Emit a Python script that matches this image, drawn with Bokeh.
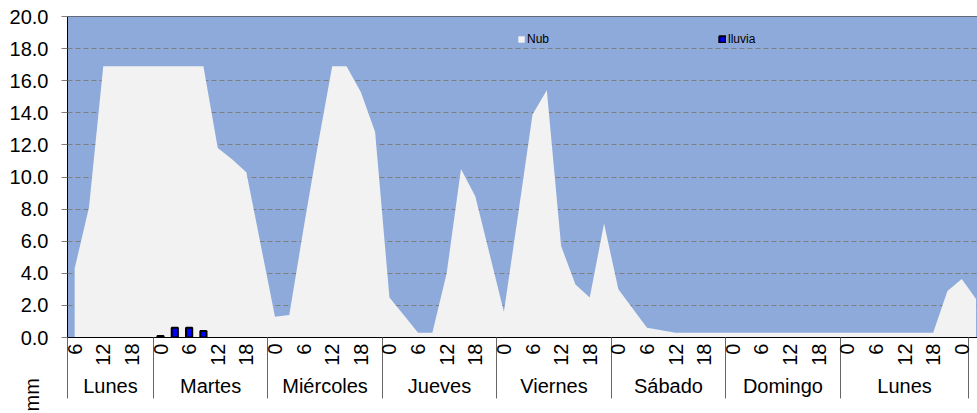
import math
from bokeh.plotting import figure
from bokeh.models import (FixedTicker, LinearAxis, NumeralTickFormatter, Range1d,
                          Span, Legend, LegendItem, ColumnDataSource, Title)
from bokeh.embed import file_html
from bokeh.resources import INLINE

FONT = "Liberation Sans"

# ---- data (hours counted from the first Lunes 00:00, 3-hour steps) ----
nub_hours = list(range(6, 196, 3))
nub_values = [
    4.3, 8.1, 16.9, 16.9, 16.9, 16.9,                      # Lunes 6..21
    16.9, 16.9, 16.9, 16.9, 11.8, 11.1, 10.3, 5.8,         # Martes
    1.3, 1.4, 6.8, 12.0, 16.9, 16.9, 15.3, 12.8,           # Miércoles
    2.5, 1.4, 0.3, 0.3, 4.0, 10.5, 8.8, 5.2,               # Jueves
    1.6, 7.7, 13.9, 15.4, 5.7, 3.3, 2.5, 7.1,              # Viernes
    3.0, 1.8, 0.6, 0.45, 0.3, 0.3, 0.3, 0.3,               # Sábado
    0.3, 0.3, 0.3, 0.3, 0.3, 0.3, 0.3, 0.3,                # Domingo
    0.3, 0.3, 0.3, 0.3, 0.3, 0.3, 0.3, 2.9, 3.65, 2.4,     # Lunes 0..24, +3
]
rain_hours = [24, 27, 30, 33]
rain_values = [0.1, 0.6, 0.6, 0.4]

hour_ticks = list(range(6, 193, 6))
hour_cycle = ["0", "6", "12", "18"]
hour_labels = [hour_cycle[(h % 24) // 6] for h in hour_ticks]

day_names = ["Lunes", "Martes", "Miércoles", "Jueves", "Viernes", "Sábado", "Domingo", "Lunes"]
day_bounds = [4.5, 22.5, 46.5, 70.5, 94.5, 118.5, 142.5, 166.5, 193.5]
day_centers = [(a + b) / 2 for a, b in zip(day_bounds[:-1], day_bounds[1:])]

y_ticks = [0, 2, 4, 6, 8, 10, 12, 14, 16, 18, 20]
unit_text = "mm"

# ---- main figure ----
p = figure(width=977, height=413, x_range=Range1d(4.5, 195.3), y_range=Range1d(0, 20),
           output_backend="svg", toolbar_location=None,
           min_border_left=67, min_border_right=0, min_border_top=16, min_border_bottom=76,
           background_fill_color="#8EAADB", border_fill_color="white",
           outline_line_color=None)

src = ColumnDataSource(dict(t=nub_hours, v=nub_values))
area = p.varea(x="t", y1=0, y2="v", source=src, fill_color="#F2F2F2")
rsrc = ColumnDataSource(dict(t=rain_hours, v=rain_values))
bars = p.vbar(x="t", top="v", width=1.3, source=rsrc, fill_color="#0000FF",
              line_color="black", line_width=2)

# grid
p.xgrid.visible = False
p.ygrid.ticker = FixedTicker(ticks=y_ticks[1:-1])
p.ygrid.grid_line_color = "#7F7F7F"
p.ygrid.grid_line_dash = "5 3"
p.add_layout(Span(location=20, dimension="width", line_color="black", line_width=1))

# y axis
ya = p.yaxis[0]
ya.ticker = FixedTicker(ticks=y_ticks)
ya.formatter = NumeralTickFormatter(format="0.0")
ya.major_label_text_font = FONT
ya.major_label_text_font_size = "20px"
ya.major_label_text_color = "black"
ya.major_tick_out = 6
ya.major_tick_in = 0
ya.minor_tick_out = 0
ya.minor_tick_in = 0
ya.major_tick_line_color = "#808080"
ya.axis_line_color = "black"
ya.major_label_standoff = 13

# unit text, bottom-left (left-side title pushed below the frame)
p.add_layout(Title(text=unit_text, align="left", vertical_align="bottom",
                   offset=-74, standoff=-72, text_font=FONT, text_font_size="20px",
                   text_font_style="normal", text_color="black"), "left")

# x axis: hours (its minor ticks draw the day separators)
xa = p.xaxis[0]
xa.ticker = FixedTicker(ticks=hour_ticks, minor_ticks=day_bounds)
xa.major_label_overrides = {h: lab for h, lab in zip(hour_ticks, hour_labels)}
xa.major_label_orientation = math.pi / 2
xa.major_label_text_font = FONT
xa.major_label_text_font_size = "20px"
xa.major_label_text_color = "black"
xa.major_tick_out = 0
xa.major_tick_in = 0
xa.minor_tick_out = 61
xa.minor_tick_in = 0
xa.major_label_standoff = -55
xa.minor_tick_line_color = "#666666"
xa.axis_line_color = "black"

# x axis: day names
xb = LinearAxis(ticker=FixedTicker(ticks=day_centers, minor_ticks=[]))
xb.major_label_overrides = {c: d for c, d in zip(day_centers, day_names)}
xb.major_label_text_font = FONT
xb.major_label_text_font_size = "20px"
xb.major_label_text_color = "black"
xb.major_label_standoff = 6
xb.major_tick_out = 0
xb.major_tick_in = 0
xb.minor_tick_out = 0
xb.minor_tick_in = 0
xb.axis_line_color = None
p.add_layout(xb, "below")

legend = Legend(items=[LegendItem(label="Nub", renderers=[area]),
                       LegendItem(label="lluvia", renderers=[bars])],
                location=(450, 291), orientation="horizontal", spacing=169,
                glyph_width=8, glyph_height=8, label_standoff=2, padding=0, margin=0,
                border_line_color=None, background_fill_alpha=0,
                label_text_font=FONT, label_text_font_size="12px", label_text_color="black",
                label_height=8, label_width=10)
p.add_layout(legend)

open("out.html", "w").write(file_html(p, INLINE))
